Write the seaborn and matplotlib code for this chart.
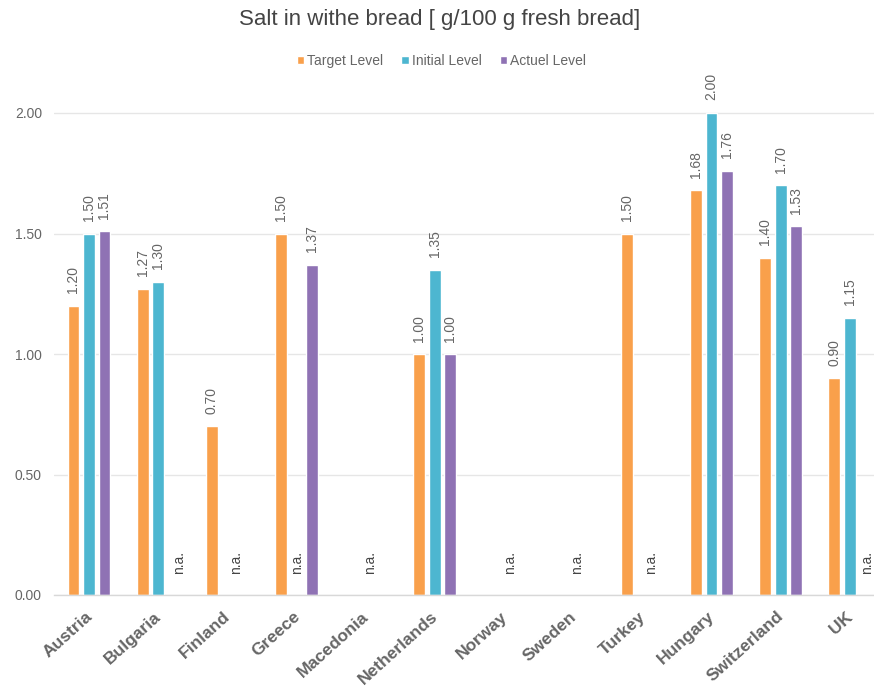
import numpy as np
import pandas as pd
import matplotlib
matplotlib.use("Agg")
import matplotlib.pyplot as plt
import matplotlib.transforms as mtransforms
import seaborn as sns

# Salt content per country (g / 100 g fresh bread); NaN = not available
countries = ["Austria", "Bulgaria", "Finland", "Greece", "Macedonia", "Netherlands",
             "Norway", "Sweden", "Turkey", "Hungary", "Switzerland", "UK"]
target_level = [1.20, 1.27, 0.70, 1.50, np.nan, 1.00, np.nan, np.nan, 1.50, 1.68, 1.40, 0.90]
initial_level = [1.50, 1.30, np.nan, np.nan, np.nan, 1.35, np.nan, np.nan, np.nan, 2.00, 1.70, 1.15]
actuel_level = [1.51, np.nan, np.nan, 1.37, np.nan, 1.00, np.nan, np.nan, np.nan, 1.76, 1.53, np.nan]
series_names = ["Target Level", "Initial Level", "Actuel Level"]
na_countries = ["Bulgaria", "Finland", "Greece", "Macedonia", "Norway", "Sweden", "Turkey", "UK"]
y_ticks = [0.0, 0.5, 1.0, 1.5, 2.0]

# horizontal placement of the "n.a." notes inside each group (category units)
na_shift = [0.30, 0.12, 0.01, 0.07, 0.09, 0.06, 0.12, 0.25]

palette = ["#F9A04B", "#4DB6D0", "#8F72B4"]
text_grey = "#666666"

df = pd.DataFrame({
    "country": countries * 3,
    "level": np.repeat(series_names, len(countries)),
    "value": target_level + initial_level + actuel_level,
})

sns.set_theme(style="white")
plt.rcParams["font.family"] = ["Liberation Sans", "DejaVu Sans"]

fig = plt.figure(figsize=(8.74, 6.99), dpi=100)
W, H = 874, 699
left_px, right_px, top_px, bottom_px = 54.4, 884.4, 75, 595
ax = fig.add_axes([left_px / W, 1 - bottom_px / H,
                   (right_px - left_px) / W, (bottom_px - top_px) / H])

sns.barplot(data=df.dropna(), x="country", y="value", hue="level",
            order=countries, hue_order=series_names, palette=palette,
            width=0.672, gap=0.23, saturation=1, errorbar=None, ax=ax)

ymax = (bottom_px - top_px) / 241.0
ax.set_ylim(0, ymax)
ax.set_xlim(-0.5, len(countries) - 0.5)
ax.set_yticks(y_ticks)
ax.set_yticklabels([f"{v:.2f}" for v in y_ticks])
ax.yaxis.grid(True, color="#e6e6e6", linewidth=1)
ax.set_axisbelow(True)
for side in ["top", "right", "left"]:
    ax.spines[side].set_visible(False)
ax.spines["bottom"].set_color("#d8d8d8")
ax.spines["bottom"].set_linewidth(1)
ax.tick_params(axis="y", length=0, pad=9, labelsize=10, labelcolor=text_grey)
ax.tick_params(axis="x", length=0, pad=10)
ax.set_xlabel("")
ax.set_ylabel("")
shift = mtransforms.ScaledTranslation(-4 / 100, 0, fig.dpi_scale_trans)
for lbl in ax.get_xticklabels():
    lbl.set_rotation(42)
    lbl.set_ha("right")
    lbl.set_rotation_mode("anchor")
    lbl.set_fontsize(12.5)
    lbl.set_fontweight("bold")
    lbl.set_color(text_grey)
    lbl.set_transform(lbl.get_transform() + shift)

# value labels above the bars
for cont in ax.containers:
    ax.bar_label(cont, fmt="%.2f", rotation=90, padding=9, fontsize=10,
                 color=text_grey, clip_on=False)

# "n.a." notes for missing values
for name, dx in zip(na_countries, na_shift):
    i = countries.index(name)
    ax.text(i + dx, 0.135, "n.a.", rotation=90, ha="center", va="center",
            fontsize=10, color="#444444", clip_on=False)

# legend across the top
handles, labels = ax.get_legend_handles_labels()
ax.legend_.remove()
fig.legend(handles, labels, loc="center", bbox_to_anchor=(0.505, 1 - 61 / H),
           ncol=3, frameon=False, fontsize=10, labelcolor=text_grey,
           handlelength=0.55, handleheight=0.55, handletextpad=0.2,
           columnspacing=1.3)

fig.text(0.503, 1 - 19 / H, "Salt in withe bread [ g/100 g fresh bread]",
         ha="center", va="center", fontsize=16, color="#444444")

fig.savefig("out.png", dpi=100)
